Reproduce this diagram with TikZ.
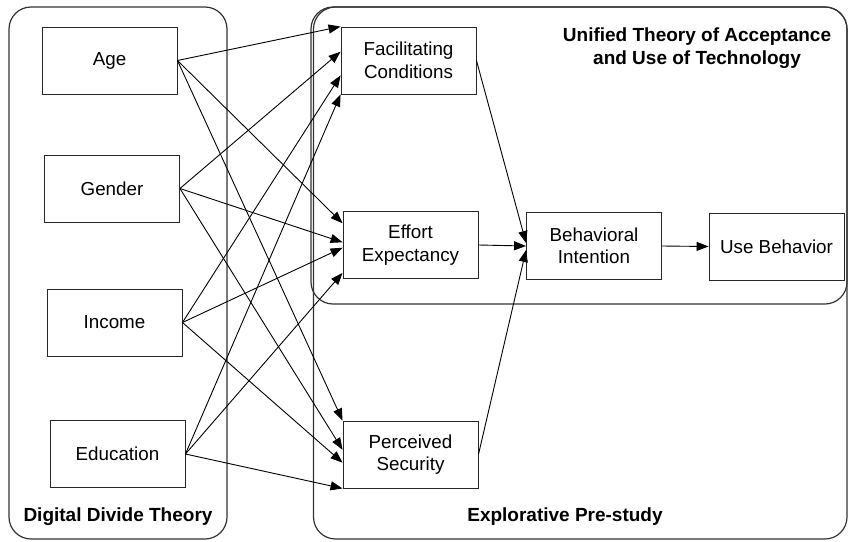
\documentclass[tikz,border=0pt]{standalone}
\usepackage{fontspec}
\setmainfont{Liberation Sans}
\usetikzlibrary{arrows.meta,calc}
\begin{document}
\begin{tikzpicture}[x=1pt,y=-1pt,
  box/.style={draw=black!85,line width=0.9pt,minimum width=135pt,minimum height=67pt,inner sep=0pt,align=center,font=\fontsize{18.8}{22.5}\selectfont},
  group/.style={draw=black!80,line width=1.2pt,rounded corners=22pt},
  title/.style={font=\fontsize{19}{23}\selectfont\bfseries,align=center},
  arr/.style={-{Triangle[length=12pt,width=9pt]},line width=0.9pt}]
\useasboundingbox (0,0) rectangle (848,541);
% groups
\draw[group] (9,7) rectangle (227,539);
\draw[group] (313.5,7) rectangle (847,539);
\draw[group] (311,7) rectangle (847,304);
% titles
\node[title] (tutaut) at (697,48) {Unified Theory of Acceptance\\and Use of Technology};
\node[title] (tdd) at (118,517) {Digital Divide Theory};
\node[title] (tep) at (565,517) {Explorative Pre-study};
% nodes
\node[box] (age) at (109.5,60.5) {Age};
\node[box] (gender) at (112,188.5) {Gender};
\node[box] (income) at (114.5,322.5) {Income};
\node[box] (edu) at (117.5,454) {Education};
\node[box] (fac) at (408.5,60.5) {Facilitating\\Conditions};
\node[box] (eff) at (410.5,245) {Effort\\Expectancy};
\node[box] (sec) at (410.5,454.5) {Perceived\\Security};
\node[box] (beh) at (594,246) {Behavioral\\Intention};
\node[box] (use) at (776.5,246.5) {Use Behavior};
% to Facilitating Conditions
\draw[arr] (age.east) -- (fac.north west);
\draw[arr] (gender.east) -- ($(fac.north west)!0.37!(fac.south west)$);
\draw[arr] (income.east) -- ($(fac.north west)!0.72!(fac.south west)$);
\draw[arr] (edu.east) -- (fac.south west);
% to Effort Expectancy
\draw[arr] (age.east) -- ($(eff.north west)!0.18!(eff.south west)$);
\draw[arr] (gender.east) -- ($(eff.north west)!0.46!(eff.south west)$);
\draw[arr] (income.east) -- ($(eff.north west)!0.54!(eff.south west)$);
\draw[arr] (edu.east) -- ($(eff.north west)!0.91!(eff.south west)$);
% to Perceived Security
\draw[arr] (age.east) -- (sec.north west);
\draw[arr] (gender.east) -- ($(sec.north west)!0.43!(sec.south west)$);
\draw[arr] (income.east) -- ($(sec.north west)!0.62!(sec.south west)$);
\draw[arr] (edu.east) -- (sec.south west);
% to Behavioral Intention
\draw[arr] (fac.east) -- ($(beh.west)+(0,-3)$);
\draw[arr] (eff.east) -- (beh.west);
\draw[arr] (sec.east) -- ($(beh.west)+(0,4)$);
\draw[arr] (beh.east) -- (use.west);
\end{tikzpicture}
\end{document}
